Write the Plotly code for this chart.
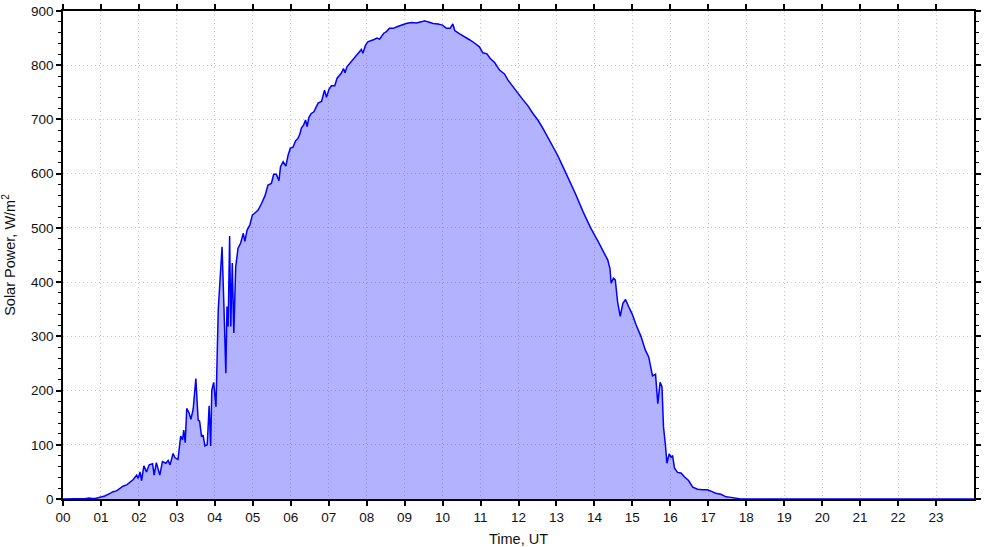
import plotly.graph_objects as go

hours = [0.0, 0.45, 0.5, 0.55, 0.6, 0.7, 0.75, 0.85, 0.97, 1.1, 1.24, 1.32, 1.41, 1.5, 1.59, 1.68, 1.76, 1.85,
         1.94, 1.98, 2.03, 2.07, 2.13, 2.2, 2.27, 2.36, 2.4, 2.46, 2.55, 2.62, 2.71, 2.77, 2.82, 2.9, 2.95,
         3.03, 3.1, 3.15, 3.18, 3.22, 3.26, 3.32, 3.37, 3.43, 3.5, 3.56, 3.6, 3.65, 3.69, 3.74, 3.8, 3.85,
         3.89, 3.92, 3.97, 4.03, 4.09, 4.13, 4.19, 4.24, 4.29, 4.32, 4.35, 4.39, 4.42, 4.46, 4.5, 4.55, 4.61,
         4.68, 4.75, 4.79, 4.85, 4.92, 4.99, 5.05, 5.14, 5.23, 5.32, 5.4, 5.49, 5.55, 5.62, 5.69, 5.73, 5.8,
         5.87, 5.93, 5.99, 6.06, 6.13, 6.19, 6.24, 6.28, 6.34, 6.39, 6.43, 6.48, 6.54, 6.61, 6.66, 6.72, 6.81,
         6.87, 6.89, 6.94, 7.01, 7.07, 7.16, 7.22, 7.27, 7.33, 7.39, 7.43, 7.48, 7.6, 7.71, 7.8, 7.86, 7.9,
         7.97, 8.03, 8.12, 8.21, 8.27, 8.34, 8.45, 8.52, 8.6, 8.7, 8.8, 8.91, 9.04, 9.18, 9.31, 9.44, 9.53,
         9.61, 9.75, 9.88, 10.0, 10.1, 10.2, 10.27, 10.32, 10.45, 10.58, 10.71, 10.84, 10.97, 11.06, 11.17,
         11.25, 11.37, 11.5, 11.63, 11.72, 11.85, 11.98, 12.11, 12.25, 12.38, 12.51, 12.64, 12.77, 12.9,
         13.03, 13.17, 13.3, 13.5, 13.7, 13.9, 14.09, 14.22, 14.35, 14.41, 14.44, 14.5, 14.55, 14.61, 14.68,
         14.75, 14.82, 14.9, 14.99, 15.1, 15.23, 15.34, 15.43, 15.53, 15.61, 15.67, 15.73, 15.78, 15.82,
         15.87, 15.91, 15.97, 16.02, 16.06, 16.11, 16.19, 16.28, 16.37, 16.48, 16.59, 16.72, 16.85, 16.98,
         17.1, 17.2, 17.33, 17.47, 17.6, 17.73, 17.85, 24.0]

power = [0, 0, 1, 0, 1, 2, 1, 1, 3, 5.5, 10.5, 13.5, 15, 20, 24, 26, 30, 36,
         44, 38, 50, 34, 61, 50, 63, 65, 44, 67, 44, 69, 66, 71, 63, 84, 76,
         73, 116, 109, 127, 104, 167, 159, 147, 166, 222, 146, 143, 115, 118, 98, 100, 172,
         98, 201, 215, 170, 349, 404, 465, 355, 232, 355, 318, 485, 318, 435, 306, 428, 462,
         472, 490, 475, 496, 505, 524, 527, 533, 545, 559, 579, 582, 599, 599, 587, 613, 622,
         614, 634, 647, 649, 661, 665, 673, 684, 690, 699, 687, 704, 711, 714, 723, 730, 733,
         748, 754, 741, 756, 762, 762, 776, 780, 785, 794, 786, 797, 807, 816, 822, 829, 822,
         837, 843, 845, 848, 850, 848, 859, 862, 868, 868, 871, 874, 877, 879, 878, 880, 882,
         880, 877, 876, 874, 868, 868, 876, 864, 858, 853, 847, 841, 834, 823, 821,
         813, 805, 791, 784, 773, 760, 749, 737, 725, 711, 699, 684, 668, 651,
         634, 613, 594, 563, 530, 500, 476, 459, 441, 425, 398, 407, 404, 364, 337,
         361, 368, 355, 342, 321, 299, 275, 262, 227, 230, 176, 215, 207, 133,
         100, 66, 83, 77, 80, 57, 49, 48, 41, 34, 22, 18, 17, 17,
         13.5, 10.5, 8.6, 4, 3, 1, 0, 0]

tick_hours = list(range(24))
tick_labels = ["%02d" % h for h in tick_hours]

fig = go.Figure()
fig.add_trace(go.Scatter(
    x=hours, y=power, mode="lines",
    line=dict(color="#0000ff", width=1.5),
    fill="tozeroy", fillcolor="rgba(0,0,255,0.3)",
    hoverinfo="x+y", showlegend=False,
))

font_family = "Liberation Sans, Arial, sans-serif"
fig.update_layout(
    width=985, height=547,
    margin=dict(l=63, r=11, t=11, b=48, autoexpand=False),
    paper_bgcolor="white", plot_bgcolor="white",
    font=dict(family=font_family, size=13, color="#111"),
)
fig.update_xaxes(
    range=[0, 24], tickmode="array", tickvals=tick_hours, ticktext=tick_labels,
    showline=True, linecolor="black", linewidth=1.5, mirror="allticks",
    ticks="outside", ticklen=5, tickcolor="black", tickwidth=1.5,
    showgrid=True, gridcolor="#c8c8c8", griddash="1px,3px", gridwidth=1,
    zeroline=False, automargin=False,
    tickfont=dict(size=13.5),
    title=dict(text="Time, UT", font=dict(size=14.5)),
)
fig.update_yaxes(
    range=[0, 900], dtick=100, tick0=0,
    showline=True, linecolor="black", linewidth=1.5, mirror="allticks",
    ticks="outside", ticklen=5, tickcolor="black", tickwidth=1.5,
    minor=dict(dtick=20, ticks="outside", ticklen=3, tickcolor="black", tickwidth=1, showgrid=False),
    showgrid=True, gridcolor="#c8c8c8", griddash="1px,3px", gridwidth=1,
    zeroline=False, automargin=False,
    tickfont=dict(size=13.5),
    title=dict(text="Solar Power, W/m<sup>2</sup>", font=dict(size=14.5)),
)

fig.write_html("out.html", config={"displayModeBar": False},
               post_script="document.body.style.margin='0';")
